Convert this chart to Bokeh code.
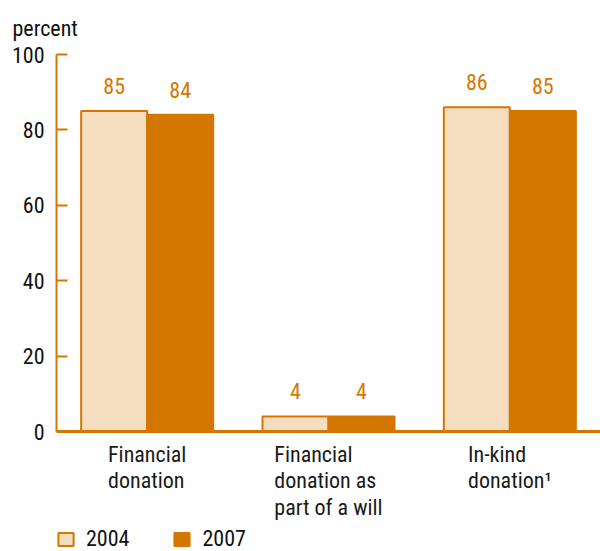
from bokeh.plotting import figure
from bokeh.models import (ColumnDataSource, FactorRange, Range1d, LabelSet, Span,
                          Legend, LegendItem, FixedTicker)
from bokeh.core.properties import value
from bokeh.transform import dodge
from bokeh.embed import file_html
from bokeh.resources import INLINE

categories = ["Financial\ndonation", "Financial\ndonation as\npart of a will", "In-kind\ndonation\u00b9"]
values_2004 = [85, 4, 86]
values_2007 = [84, 4, 85]
series_names = ["2004", "2007"]
y_ticks = [0, 20, 40, 60, 80, 100]

ORANGE = "#D47700"
LIGHT = "#F5DEC0"
FONT = "Roboto Condensed"

src = ColumnDataSource(dict(cat=categories, v04=values_2004, v07=values_2007,
                            zero=[0] * len(categories),
                            t04=[str(v) for v in values_2004],
                            t07=[str(v) for v in values_2007]))

# frame: 100 at y=54, 0 at y=431 -> 3.77 px per unit; frame runs to the bottom edge
p = figure(x_range=FactorRange(*categories), y_range=Range1d(-31.83, 100),
           width=600, height=551, output_backend="svg", toolbar_location=None,
           min_border_left=56, min_border_right=0, min_border_top=54,
           min_border_bottom=0, title="percent")
p.outline_line_color = None
p.grid.grid_line_color = None
p.x_range.range_padding = 0
p.xaxis.visible = False

p.title.text_font = FONT
p.title.text_font_size = "22px"
p.title.text_font_style = "normal"
p.title.text_color = "#111111"
p.title.align = "left"
p.title.offset = -44
p.title.standoff = 27

w = 0.364
r1 = p.vbar(x=dodge("cat", -w / 2, range=p.x_range), top="v04", width=w, source=src,
            fill_color=LIGHT, line_color=ORANGE, line_width=2)
r2 = p.vbar(x=dodge("cat", w / 2, range=p.x_range), top="v07", width=w, source=src,
            fill_color=ORANGE, line_color=ORANGE, line_width=2)

# baseline
p.add_layout(Span(location=0, dimension="width", line_color=ORANGE, line_width=3))

for off, col, ycol in [(-w / 2, "t04", "v04"), (w / 2, "t07", "v07")]:
    p.add_layout(LabelSet(x=dodge("cat", off, range=p.x_range), y=ycol, text=col, source=src,
                          y_offset=17, text_align="center", text_baseline="alphabetic",
                          text_font=value(FONT), text_font_size=value("22px"),
                          text_color=ORANGE))

# category labels under the baseline
p.add_layout(LabelSet(x="cat", y="zero", text="cat", source=src, y_offset=-10,
                      text_align="center", text_baseline="top",
                      text_font=value(FONT), text_font_size=value("22px"),
                      text_line_height=1.06, text_color="#1a1a1a"))

# y axis
p.yaxis.ticker = FixedTicker(ticks=y_ticks)
p.yaxis.bounds = (0, 100)
p.yaxis.axis_line_color = ORANGE
p.yaxis.axis_line_width = 2
p.yaxis.major_tick_line_color = ORANGE
p.yaxis.major_tick_line_width = 2
p.yaxis.major_tick_in = 11
p.yaxis.major_tick_out = 0
p.yaxis.minor_tick_line_color = None
p.yaxis.major_label_standoff = 12
p.yaxis.major_label_text_font = FONT
p.yaxis.major_label_text_font_size = "22px"
p.yaxis.major_label_text_color = "#111111"

legend = Legend(items=[LegendItem(label=series_names[0], renderers=[r1]),
                       LegendItem(label=series_names[1], renderers=[r2])],
                orientation="horizontal", location=(0, 0),
                glyph_width=19, glyph_height=16, label_standoff=11, spacing=43,
                padding=0, margin=0, border_line_color=None, background_fill_alpha=0,
                label_text_font=FONT, label_text_font_size="22px", label_text_color="#111111",
                label_height=16, label_text_baseline="middle")
p.add_layout(legend, "center")

open("out.html", "w").write(file_html(p, INLINE))
